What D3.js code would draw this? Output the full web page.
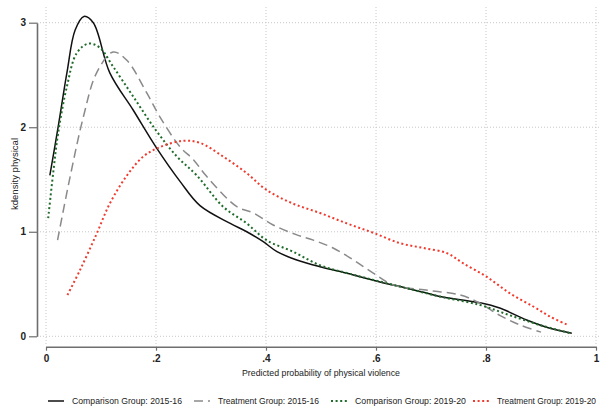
<!DOCTYPE html>
<html>
<head>
<meta charset="utf-8">
<script src="https://cdn.jsdelivr.net/npm/d3@7"></script>
<style>
  body { margin: 0; background: #fff; }
  svg { display: block; font-family: "Liberation Sans", Arial, sans-serif; }
</style>
</head>
<body>
<svg id="chart" width="603" height="409"></svg>
<script>
// x ticks / y ticks
var xTicks = [0, 0.2, 0.4, 0.6, 0.8, 1];
var yTicks = [0, 1, 2, 3];

// Comparison Group: 2015-16
var cmp1516X = [0.007,0.022,0.038,0.053,0.069,0.086,0.116,0.159,0.2,0.244,0.28,0.335,0.365,0.395,0.42,0.456,0.498,0.535,0.571,0.607,0.656,0.695,0.716,0.789,0.825,0.874,0.916,0.956];
var cmp1516Y = [1.54,2.0,2.52,2.93,3.06,3.0,2.52,2.16,1.81,1.48,1.25,1.08,1.0,0.905,0.81,0.73,0.666,0.62,0.57,0.52,0.46,0.41,0.38,0.32,0.27,0.156,0.077,0.03];

// Treatment Group: 2015-16
var trt1516X = [0.021,0.044,0.068,0.092,0.122,0.147,0.183,0.207,0.244,0.268,0.292,0.347,0.377,0.413,0.456,0.486,0.522,0.559,0.595,0.632,0.695,0.753,0.789,0.825,0.862,0.9];
var trt1516Y = [0.92,1.53,2.1,2.52,2.72,2.64,2.33,2.1,1.81,1.69,1.53,1.24,1.18,1.065,0.97,0.92,0.845,0.73,0.605,0.49,0.44,0.395,0.316,0.2,0.108,0.04];

// Comparison Group: 2019-20
var cmp1920X = [0.004,0.013,0.022,0.038,0.056,0.077,0.098,0.122,0.159,0.2,0.238,0.274,0.322,0.365,0.401,0.449,0.498,0.547,0.595,0.656,0.716,0.789,0.844,0.898,0.953];
var cmp1920Y = [1.13,1.56,1.94,2.39,2.71,2.8,2.76,2.58,2.29,1.97,1.72,1.54,1.24,1.08,0.92,0.81,0.68,0.605,0.54,0.46,0.38,0.3,0.2,0.108,0.03];

// Treatment Group: 2019-20
var trt1920X = [0.039,0.062,0.092,0.116,0.146,0.177,0.207,0.249,0.28,0.322,0.365,0.401,0.449,0.498,0.547,0.595,0.644,0.686,0.729,0.758,0.801,0.844,0.886,0.916,0.949];
var trt1920Y = [0.395,0.635,0.98,1.27,1.53,1.72,1.81,1.87,1.85,1.72,1.56,1.4,1.27,1.18,1.08,0.99,0.89,0.845,0.795,0.70,0.57,0.41,0.285,0.19,0.108];

var seriesNames = ["Comparison Group: 2015-16", "Treatment Group: 2015-16", "Comparison Group: 2019-20", "Treatment Group: 2019-20"];

var series = [
  {name: seriesNames[0], xs: cmp1516X, ys: cmp1516Y, color: "#111111", width: 1.5, dash: null},
  {name: seriesNames[1], xs: trt1516X, ys: trt1516Y, color: "#8a8a8a", width: 1.5, dash: "9,5"},
  {name: seriesNames[2], xs: cmp1920X, ys: cmp1920Y, color: "#1f6b2a", width: 2, dash: "2,2.6"},
  {name: seriesNames[3], xs: trt1920X, ys: trt1920Y, color: "#f03a2e", width: 2, dash: "2,2.6"}
];

var svg = d3.select("#chart");

var x = d3.scaleLinear().domain([0, 1]).range([46, 596]);
var y = d3.scaleLinear().domain([0, 3]).range([336.3, 22.7]);

var plotLeft = 37, plotRight = 601, plotTop = 7, plotBottom = 346;

// grid
var grid = svg.append("g");
grid.selectAll(".gx").data(xTicks).enter().append("line")
  .attr("x1", d => x(d)).attr("x2", d => x(d))
  .attr("y1", plotTop).attr("y2", plotBottom)
  .attr("stroke", "#c8c8c8").attr("stroke-width", 1).attr("stroke-dasharray", "1,2");
grid.selectAll(".gy").data(yTicks).enter().append("line")
  .attr("x1", plotLeft).attr("x2", plotRight)
  .attr("y1", d => y(d)).attr("y2", d => y(d))
  .attr("stroke", "#c8c8c8").attr("stroke-width", 1).attr("stroke-dasharray", "1,2");

// y axis
var yAxis = svg.append("g")
  .attr("transform", "translate(" + plotLeft + ",0)")
  .call(d3.axisLeft(y).tickValues(yTicks).tickFormat(d3.format("d")).tickSize(8).tickSizeOuter(0).tickPadding(3));

// x axis
var xAxis = svg.append("g")
  .attr("transform", "translate(0," + 346.7 + ")")
  .call(d3.axisBottom(x).tickValues(xTicks)
    .tickFormat(d => d === 0 ? "0" : d === 1 ? "1" : d3.format(".1f")(d).replace(/^0/, ""))
    .tickSize(4).tickSizeOuter(0).tickPadding(4));

[yAxis, xAxis].forEach(function (ax) {
  ax.select(".domain").attr("stroke", "#6e6e6e").attr("stroke-width", 1.6);
  ax.selectAll(".tick line").attr("stroke", "#6e6e6e").attr("stroke-width", 1.2);
  ax.selectAll(".tick text").attr("fill", "#222").attr("font-size", 10)
    .attr("font-weight", "bold").attr("font-family", "Liberation Sans, Arial, sans-serif");
});

// axis titles
svg.append("text")
  .attr("x", (x(0) + x(1)) / 2).attr("y", 376)
  .attr("text-anchor", "middle").attr("font-size", 9.2).attr("fill", "#222")
  .attr("textLength", 158).attr("lengthAdjust", "spacingAndGlyphs")
  .text("Predicted probability of physical violence");

svg.append("text")
  .attr("transform", "translate(15," + 174 + ") rotate(-90)")
  .attr("text-anchor", "middle").attr("dy", "0.35em").attr("font-size", 9.5).attr("fill", "#222")
  .attr("textLength", 72).attr("lengthAdjust", "spacingAndGlyphs")
  .text("kdensity physical");

// curves
var line = d3.line()
  .x(d => x(d[0])).y(d => y(d[1]))
  .curve(d3.curveCatmullRom.alpha(0.5));

series.forEach(function (s) {
  svg.append("path")
    .datum(d3.zip(s.xs, s.ys))
    .attr("d", line)
    .attr("fill", "none")
    .attr("stroke", s.color)
    .attr("stroke-width", s.width)
    .attr("stroke-dasharray", s.dash);
});

// legend
var legendX = [48, 194, 331, 473];
var legendW = [110, 101, 111, 99];
var legend = svg.append("g").attr("transform", "translate(0,401)");
series.forEach(function (s, i) {
  var g = legend.append("g").attr("transform", "translate(" + legendX[i] + ",0)");
  g.append("line").attr("x1", 0).attr("x2", 16).attr("y1", 0).attr("y2", 0)
    .attr("stroke", s.color).attr("stroke-width", s.width).attr("stroke-dasharray", s.dash);
  g.append("text").attr("x", 24).attr("dy", "0.35em").attr("font-size", 8.7).attr("fill", "#222")
    .attr("textLength", legendW[i]).attr("lengthAdjust", "spacingAndGlyphs")
    .text(s.name);
});
</script>
</body>
</html>
